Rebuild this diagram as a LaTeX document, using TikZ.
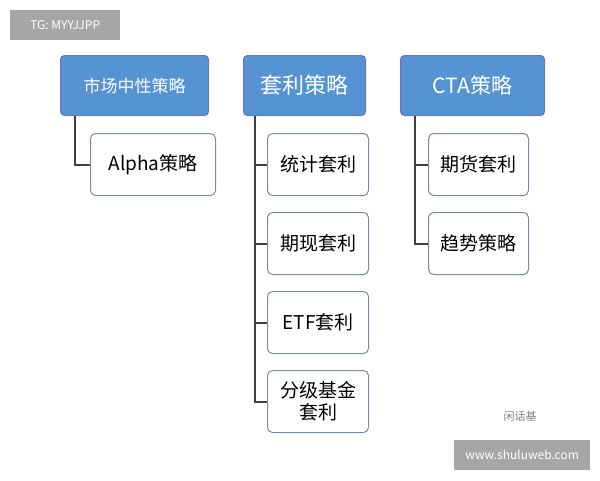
\documentclass[tikz,border=0pt]{standalone}
\usepackage{fontspec}
\setmainfont{Noto Sans CJK SC}
\begin{document}
\begin{tikzpicture}[x=1pt,y=-1pt,
  par/.style={draw=blue!40!gray!80, fill={rgb,255:red,85;green,147;blue,211}, rounded corners=4pt, text=white, line width=1pt, anchor=north west, inner sep=0pt},
  chd/.style={draw={rgb,255:red,120;green,140;blue,165}, fill=white, rounded corners=5pt, line width=1pt, anchor=north west, inner sep=0pt, align=center, font=\fontsize{19}{22}\selectfont},
  con/.style={draw={rgb,255:red,64;green,64;blue,64}, line width=2pt}]
\useasboundingbox (0,0) rectangle (600,480);
\node[fill={rgb,255:red,166;green,166;blue,166}, anchor=north west, minimum width=110pt, minimum height=30pt, inner sep=0pt, text=white, font=\fontsize{12}{14}\selectfont] (wm) at (10,10) {TG: MYYJJPP};
\node[par, minimum width=148pt, minimum height=60pt, font=\fontsize{17}{20}\selectfont] (p1) at (60,55) {市场中性策略};
\node[par, minimum width=122pt, minimum height=60pt, font=\fontsize{22}{26}\selectfont] (p2) at (243,55) {套利策略};
\node[par, minimum width=144pt, minimum height=60pt, font=\fontsize{21}{24}\selectfont] (p3) at (400,55) {CTA策略};
\node[chd, minimum width=125pt, minimum height=62pt] (a1) at (90,133) {Alpha策略};
\node[chd, minimum width=101pt, minimum height=62pt] (b1) at (267,133) {统计套利};
\node[chd, minimum width=101pt, minimum height=62pt] (b2) at (267,212) {期现套利};
\node[chd, minimum width=101pt, minimum height=62pt] (b3) at (267,291) {ETF套利};
\node[chd, minimum width=101pt, minimum height=62pt] (b4) at (267,370) {分级基金\\套利};
\node[chd, minimum width=100pt, minimum height=62pt] (c1) at (428,133) {期货套利};
\node[chd, minimum width=100pt, minimum height=62pt] (c2) at (428,212) {趋势策略};
\begin{scope}[on background layer/.style={}]
\draw[con] (p1.south west) ++(15,0) |- (a1.west);
\draw[con] (p2.south west) ++(12,0) |- (b4.west);
\foreach \n in {b1,b2,b3} \draw[con] (255,0 |- \n.west) -- (\n.west);
\draw[con] (p3.south west) ++(15,0) |- (c2.west);
\draw[con] (415,0 |- c1.west) -- (c1.west);
\end{scope}
\node[text=gray, font=\fontsize{11}{13}\selectfont] (logo) at (520,416) {闲话基};
\node[fill={rgb,255:red,166;green,166;blue,166}, anchor=north west, minimum width=136pt, minimum height=30pt, inner sep=0pt, text=white, font=\fontsize{12}{14}\selectfont] (wm2) at (454,440) {www.shuluweb.com};
\end{tikzpicture}
\end{document}
